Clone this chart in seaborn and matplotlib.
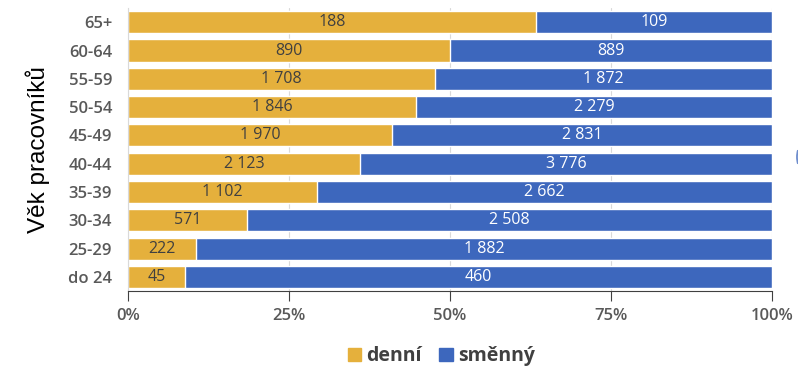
import matplotlib
matplotlib.use("Agg")
import matplotlib.pyplot as plt
import matplotlib.patches as mpatches
import seaborn as sns
import pandas as pd

# Age groups, top to bottom
vek = ["65+", "60-64", "55-59", "50-54", "45-49", "40-44", "35-39", "30-34", "25-29", "do 24"]
denni = [188, 890, 1708, 1846, 1970, 2123, 1102, 571, 222, 45]
smenny = [109, 889, 1872, 2279, 2831, 3776, 2662, 2508, 1882, 460]

c_denni = "#E5B03C"
c_smenny = "#3D67BD"

df = pd.DataFrame({"vek": vek, "denni": denni, "smenny": smenny})
df["celkem"] = df["denni"] + df["smenny"]
df["p_denni"] = df["denni"] / df["celkem"] * 100
df["p_celkem"] = 100.0

sns.set_style("white")
plt.rcParams["font.family"] = ["Open Sans", "DejaVu Sans"]

fig = plt.figure(figsize=(7.98, 3.66), dpi=100)
ax = fig.add_axes([0.1604, 0.2049, 0.807, 0.773])

# full-width bar (směnný) and the denní share drawn over it
sns.barplot(data=df, y="vek", x="p_celkem", order=vek, color=c_smenny,
            width=0.78, ax=ax, orient="h", saturation=1)
sns.barplot(data=df, y="vek", x="p_denni", order=vek, color=c_denni,
            width=0.78, ax=ax, orient="h", saturation=1)


def fmt(v):
    return f"{v:,}".replace(",", "\u00a0")


for i, row in df.iterrows():
    ax.text(row["p_denni"] / 2, i, fmt(row["denni"]), ha="center", va="center",
            fontsize=11.5, color="#404040")
    ax.text((row["p_denni"] + 100) / 2, i, fmt(row["smenny"]), ha="center", va="center",
            fontsize=11.5, color="white")

ax.set_xlim(0, 100)
ax.set_ylim(9.5, -0.5)
ax.set_xticks([0, 25, 50, 75, 100])
ax.set_xticklabels(["0%", "25%", "50%", "75%", "100%"])
ax.xaxis.grid(True, color="#D9D9D9", linewidth=0.8)
ax.set_axisbelow(True)
for s in ["top", "right"]:
    ax.spines[s].set_visible(False)
ax.spines["left"].set_color("#D9D9D9")
ax.spines["bottom"].set_color("#404040")
ax.spines["bottom"].set_linewidth(0.8)
ax.tick_params(axis="x", bottom=True, length=7, width=0.8, color="#404040",
               labelsize=12, labelcolor="#595959", pad=5)
ax.tick_params(axis="y", left=False, labelsize=12, labelcolor="#595959", pad=8)
for t in ax.get_xticklabels() + ax.get_yticklabels():
    t.set_fontweight("semibold")

ax.set_xlabel("")
ax.set_ylabel("Věk pracovníků", fontsize=17.5, color="black", family="Liberation Sans")
ax.yaxis.set_label_coords(-0.121, 0.5)

handles = [mpatches.Patch(color=c_denni, label="denní"),
           mpatches.Patch(color=c_smenny, label="směnný")]
leg = fig.legend(handles=handles, loc="center", bbox_to_anchor=(0.553, 0.027),
                 ncol=2, frameon=False, handlelength=0.7, handleheight=0.7,
                 handletextpad=0.25, columnspacing=0.9,
                 prop={"size": 14, "weight": "bold"})
for t in leg.get_texts():
    t.set_color("#404040")

# partial circle edge at the right border
fig.patches.append(mpatches.Arc((813 / 798, 1 - 157 / 366), 32 / 798, 40 / 366,
                                transform=fig.transFigure, color=c_smenny,
                                linewidth=1.3, alpha=0.75, theta1=135, theta2=225))

fig.savefig("out.png", dpi=100)
